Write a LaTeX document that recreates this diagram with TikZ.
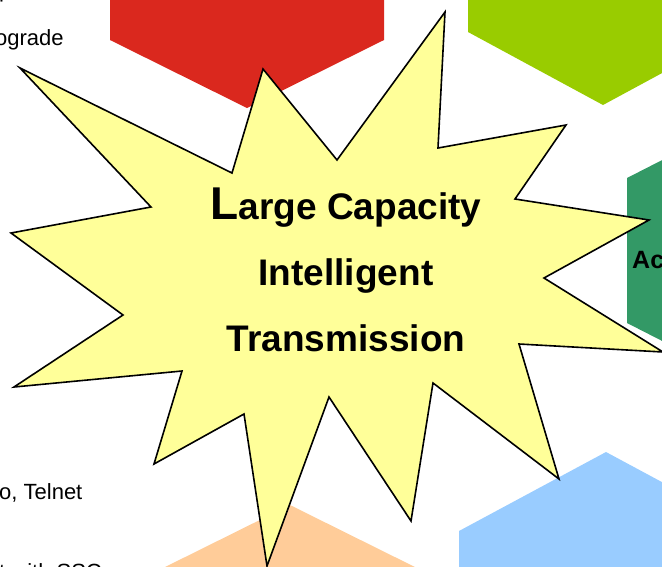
\documentclass[tikz,border=0pt]{standalone}
\usepackage{fontspec}
\setmainfont{Liberation Sans}
\definecolor{hexred}{RGB}{218,40,30}
\definecolor{hexgreen}{RGB}{153,204,0}
\definecolor{hexteal}{RGB}{51,153,102}
\definecolor{hexblue}{RGB}{153,204,255}
\definecolor{hexpeach}{RGB}{255,204,153}
\definecolor{starfill}{RGB}{255,255,153}
\tikzset{
  hexa/.style={draw=none},
  sidetext/.style={inner sep=0pt, anchor=base west, font=\fontsize{22}{26}\selectfont},
  titletext/.style={inner sep=0pt, anchor=base, font=\bfseries\fontsize{37}{40}\selectfont},
  hextext/.style={inner sep=0pt, anchor=base west, font=\bfseries\fontsize{25}{28}\selectfont}
}
\begin{document}
\begin{tikzpicture}[x=1pt,y=-1pt]
\useasboundingbox (0,0) rectangle (662,566);
\clip (0,0) rectangle (662,566);
% hexagons
\fill[hexa, hexred] (110,-30) -- (110,40) -- (247,108) -- (384,40) -- (384,-30) -- cycle;
\fill[hexa, hexgreen] (468,-30) -- (468,32) -- (603,105) -- (738,32) -- (738,-30) -- cycle;
\fill[hexa, hexteal] (627,178) -- (764,108) -- (901,178) -- (901,323) -- (764,393) -- (627,323) -- cycle;
\fill[hexa, hexpeach] (290,505) -- (427,573) -- (427,700) -- (153,700) -- (153,573) -- cycle;
\fill[hexa, hexblue] (606,452) -- (753,531) -- (753,700) -- (459,700) -- (459,531) -- cycle;
% side texts
\node[sidetext] (t1) at (-1,-3) {p};
\node[sidetext] (t2) at (-5,45) {ograde};
\node[sidetext] (t3) at (-1,499) {o, Telnet};
\node[sidetext] (t4) at (-1,579) {t with SSC};
\node[hextext] (t5) at (632,268) {Ac};
\node[hextext] (t6) at (503,585) {Transport Capacity};
% star
\filldraw[fill=starfill, draw=black, line width=1.6pt, line join=miter]
 (20,68) -- (232,173) -- (263,69) -- (337,160) -- (445,12) -- (438,148)
 -- (566,125) -- (515,199) -- (649,220) -- (544,278) -- (663,352) -- (519,344)
 -- (559,479) -- (433,383) -- (411,521) -- (329,397) -- (267,566) -- (244,414)
 -- (154,464) -- (182,371) -- (14,387) -- (123,315) -- (11,233) -- (151,207) -- cycle;
\node[titletext] (l1) at (346,219) {{\fontsize{46}{48}\selectfont L}arge Capacity};
\node[titletext] (l2) at (346,285) {Intelligent};
\node[titletext] (l3) at (346,351) {Transmission};
\end{tikzpicture}
\end{document}
